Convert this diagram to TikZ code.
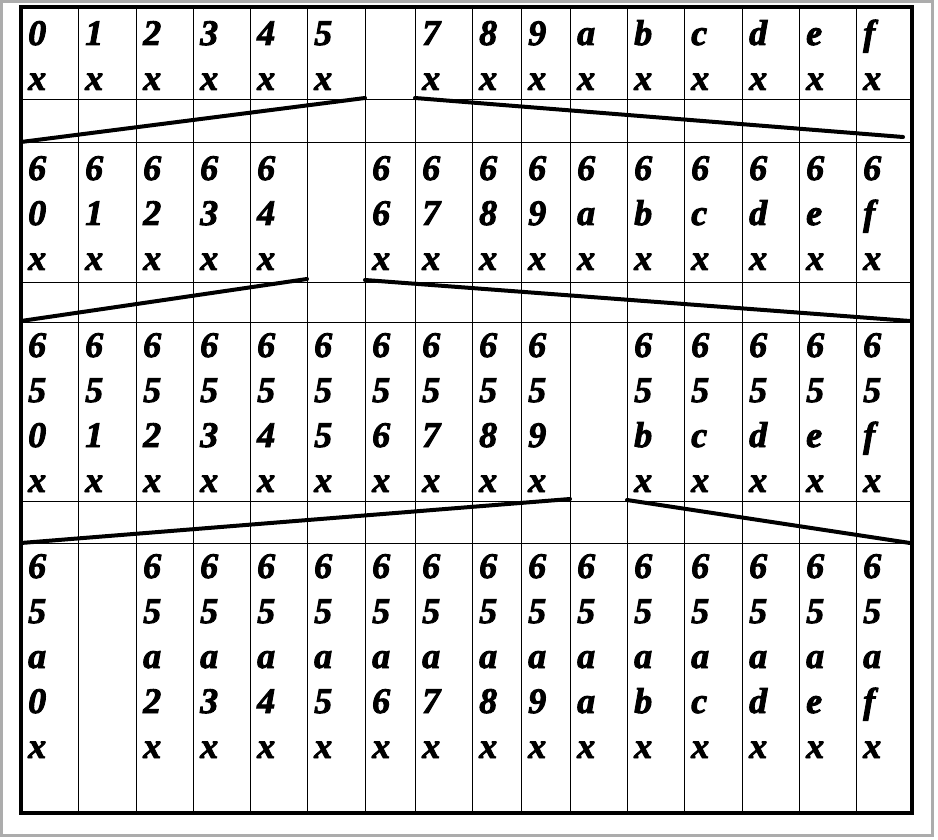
\documentclass[tikz,border=0pt]{standalone}
\usepackage{fontspec}
\newfontfamily\cellfont{Liberation Serif Bold Italic}[FakeBold=2.5]
\begin{document}
\begin{tikzpicture}[x=1pt,y=-1pt,
  cell/.style={anchor=base west,inner sep=0pt,font=\cellfont\fontsize{36}{45}\selectfont},
  grid/.style={line width=0.9pt,black},
  border/.style={line width=3.5pt,black},
  frame/.style={line width=3pt,gray!65},
  slope/.style={line width=4pt,black,line cap=round}]
\useasboundingbox (0,0) rectangle (938,840);
\fill[white] (0,0) rectangle (938,840);
% outer frame
\draw[frame] (1.5,1.5) rectangle (932.5,835.5);
% vertical grid lines
\foreach \x in {78,136,193,250,307,365,415,472,521,570,627,684,742,799,856}
  \draw[grid] (\x,7) -- (\x,813);
% horizontal grid lines
\foreach \y in {99,142,282,322,501,543}
  \draw[grid] (21,\y) -- (912,\y);
% border
\draw[border] (21,7) rectangle (912,813);
% row A
\foreach \x/\d/\n in {21/0/0,78/1/1,136/2/2,193/3/3,250/4/4,307/5/5,415/7/7,472/8/8,521/9/9,570/a/10,627/b/11,684/c/12,742/d/13,799/e/14,856/f/15}
  \node[cell] (A\n) at (\x+7,45) {\vtop{\hbox{\d}\hbox{x}}};
% row B
\foreach \x/\d/\n in {21/0/0,78/1/1,136/2/2,193/3/3,250/4/4,365/6/6,415/7/7,472/8/8,521/9/9,570/a/10,627/b/11,684/c/12,742/d/13,799/e/14,856/f/15}
  \node[cell] (B\n) at (\x+7,180) {\vtop{\hbox{6}\hbox{\d}\hbox{x}}};
% row C
\foreach \x/\d/\n in {21/0/0,78/1/1,136/2/2,193/3/3,250/4/4,307/5/5,365/6/6,415/7/7,472/8/8,521/9/9,627/b/11,684/c/12,742/d/13,799/e/14,856/f/15}
  \node[cell] (C\n) at (\x+7,357) {\vtop{\hbox{6}\hbox{5}\hbox{\d}\hbox{x}}};
% row D
\foreach \x/\d/\n in {21/0/0,136/2/2,193/3/3,250/4/4,307/5/5,365/6/6,415/7/7,472/8/8,521/9/9,570/a/10,627/b/11,684/c/12,742/d/13,799/e/14,856/f/15}
  \node[cell] (D\n) at (\x+7,578) {\vtop{\hbox{6}\hbox{5}\hbox{a}\hbox{\d}\hbox{x}}};
% sloped lines
\coordinate (p1) at (21,142);  \coordinate (q1) at (365,98);
\coordinate (r1) at (415,98);  \coordinate (s1) at (903,137);
\coordinate (p2) at (21,321);  \coordinate (q2) at (307,279);
\coordinate (r2) at (365,280); \coordinate (s2) at (910,321);
\coordinate (p3) at (21,543);  \coordinate (q3) at (570,499);
\coordinate (r3) at (627,500); \coordinate (s3) at (910,543);
\draw[slope] (p1) -- (q1);
\draw[slope] (r1) -- (s1);
\draw[slope] (p2) -- (q2);
\draw[slope] (r2) -- (s2);
\draw[slope] (p3) -- (q3);
\draw[slope] (r3) -- (s3);
\end{tikzpicture}
\end{document}
